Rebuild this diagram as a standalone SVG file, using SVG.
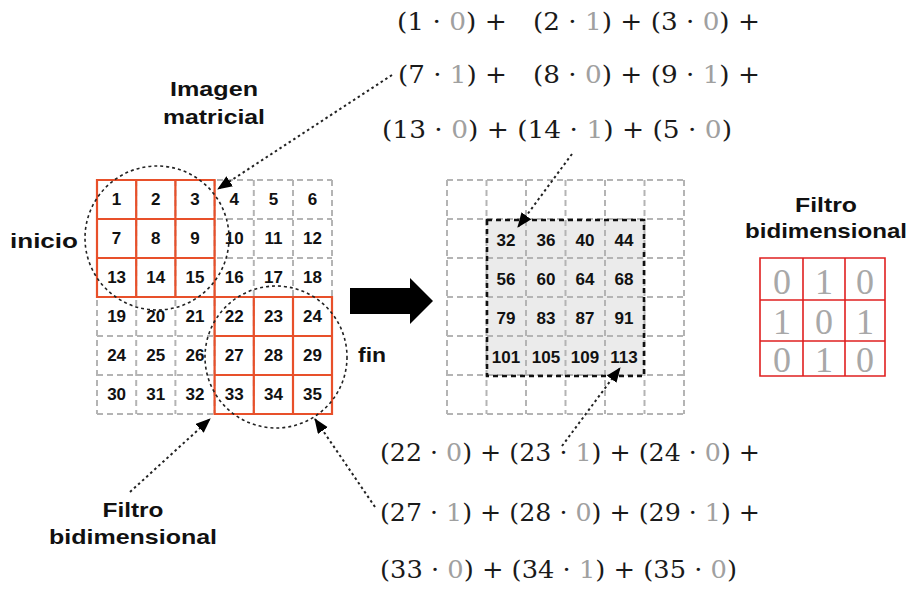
<svg xmlns="http://www.w3.org/2000/svg" width="912" height="591" viewBox="0 0 912 591">
<style>
.lbl{font-family:"Liberation Sans",Arial,sans-serif;font-weight:bold;font-size:21px;fill:#111;text-anchor:middle}
.num{font-family:"Liberation Sans",Arial,sans-serif;font-weight:bold;font-size:17px;fill:#111;text-anchor:middle}
.f{font-family:"DejaVu Serif","Liberation Serif",serif;font-size:25px;fill:#1a1a1a}
.g{fill:#a0a0a0}
.fd{font-family:"Liberation Serif",serif;font-size:36px;fill:#a8a8a8;text-anchor:middle}
.gd{stroke:#b4b4b4;stroke-width:2;stroke-dasharray:6 4;fill:none}
.red{stroke:#e8502a;stroke-width:2.2;fill:none}
.circ{stroke:#222;stroke-width:1.6;stroke-dasharray:3 3;fill:none}
.dot{stroke:#222;stroke-width:2;stroke-dasharray:2.5 3;fill:none}
</style>
<defs>
<marker id="ah" markerUnits="userSpaceOnUse" markerWidth="16" markerHeight="14" refX="14" refY="6" orient="auto">
<path d="M0,0 L15,6 L0,12 Z" fill="#000"/>
</marker>
</defs>
<rect width="912" height="591" fill="#fff"/>

<g id="imagen-matricial">
<path class="gd" d="M97,180H332M97,219H332M97,258H332M97,297H332M97,336H332M97,375H332M97,414H332M97,180V414M136.2,180V414M175.4,180V414M214.6,180V414M253.8,180V414M293,180V414M332,180V414"/>
<path class="red" d="M97,180H214.6V297H97Z M136.2,180V297M175.4,180V297M97,219H214.6M97,258H214.6"/>
<path class="red" d="M214.6,297H332V414H214.6Z M253.8,297V414M293,297V414M214.6,336H332M214.6,375H332"/>
<g class="num">
<text x="116.6" y="205">1</text><text x="155.8" y="205">2</text><text x="195" y="205">3</text><text x="234.2" y="205">4</text><text x="273.4" y="205">5</text><text x="312.5" y="205">6</text>
<text x="116.6" y="244">7</text><text x="155.8" y="244">8</text><text x="195" y="244">9</text><text x="234.2" y="244">10</text><text x="273.4" y="244">11</text><text x="312.5" y="244">12</text>
<text x="116.6" y="283">13</text><text x="155.8" y="283">14</text><text x="195" y="283">15</text><text x="234.2" y="283">16</text><text x="273.4" y="283">17</text><text x="312.5" y="283">18</text>
<text x="116.6" y="322">19</text><text x="155.8" y="322">20</text><text x="195" y="322">21</text><text x="234.2" y="322">22</text><text x="273.4" y="322">23</text><text x="312.5" y="322">24</text>
<text x="116.6" y="361">24</text><text x="155.8" y="361">25</text><text x="195" y="361">26</text><text x="234.2" y="361">27</text><text x="273.4" y="361">28</text><text x="312.5" y="361">29</text>
<text x="116.6" y="400">30</text><text x="155.8" y="400">31</text><text x="195" y="400">32</text><text x="234.2" y="400">33</text><text x="273.4" y="400">34</text><text x="312.5" y="400">35</text>
</g>
<circle class="circ" cx="157" cy="238" r="72"/>
<circle class="circ" cx="276" cy="357" r="71"/>
</g>

<g id="labels">
<text class="lbl" x="214" y="96" textLength="88" lengthAdjust="spacingAndGlyphs">Imagen</text>
<text class="lbl" x="214" y="124" textLength="102" lengthAdjust="spacingAndGlyphs">matricial</text>
<text class="lbl" x="44" y="248" textLength="68" lengthAdjust="spacingAndGlyphs">inicio</text>
<text class="lbl" x="372" y="362" textLength="28" lengthAdjust="spacingAndGlyphs">fin</text>
<text class="lbl" x="133" y="517" textLength="61" lengthAdjust="spacingAndGlyphs">Filtro</text>
<text class="lbl" x="133" y="544" textLength="168" lengthAdjust="spacingAndGlyphs">bidimensional</text>
</g>

<g id="flecha">
<path d="M350,288H410V278L433,301L410,324V314H350Z" fill="#000"/>
</g>

<g id="resultado">
<rect x="487" y="220" width="157" height="156" fill="#ebebeb"/>
<path class="gd" d="M447,180H684M447,219H684M447,258H684M447,297H684M447,336H684M447,375H684M447,414H684M447,180V414M486.5,180V414M526,180V414M565.5,180V414M605,180V414M644.5,180V414M684,180V414"/>
<rect x="487" y="220" width="157" height="156" fill="none" stroke="#111" stroke-width="2.6" stroke-dasharray="5 4"/>
<g class="num">
<text x="506" y="246">32</text><text x="546" y="246">36</text><text x="585" y="246">40</text><text x="624" y="246">44</text>
<text x="506" y="285">56</text><text x="546" y="285">60</text><text x="585" y="285">64</text><text x="624" y="285">68</text>
<text x="506" y="324">79</text><text x="546" y="324">83</text><text x="585" y="324">87</text><text x="624" y="324">91</text>
<text x="506" y="363">101</text><text x="546" y="363">105</text><text x="585" y="363">109</text><text x="624" y="363">113</text>
</g>
</g>

<g id="filtro">
<text class="lbl" x="826" y="212" textLength="62" lengthAdjust="spacingAndGlyphs">Filtro</text>
<text class="lbl" x="826" y="238" textLength="162" lengthAdjust="spacingAndGlyphs">bidimensional</text>
<path d="M760,258H885V376H760Z M803,258V376M845,258V376M760,300H885M760,341H885" fill="none" stroke="#e02020" stroke-width="1.6"/>
<g class="fd">
<text x="782" y="294">0</text><text x="824" y="294">1</text><text x="865" y="294">0</text>
<text x="782" y="334">1</text><text x="824" y="334">0</text><text x="865" y="334">1</text>
<text x="782" y="372">0</text><text x="824" y="372">1</text><text x="865" y="372">0</text>
</g>
</g>

<g id="formula-inicio" class="f">
<text x="397" y="30" textLength="110" lengthAdjust="spacingAndGlyphs">(1 · <tspan class="g">0</tspan>) +</text>
<text x="533" y="30" textLength="227" lengthAdjust="spacingAndGlyphs">(2 · <tspan class="g">1</tspan>) + (3 · <tspan class="g">0</tspan>) +</text>
<text x="398" y="83" textLength="109" lengthAdjust="spacingAndGlyphs">(7 · <tspan class="g">1</tspan>) +</text>
<text x="533" y="83" textLength="227" lengthAdjust="spacingAndGlyphs">(8 · <tspan class="g">0</tspan>) + (9 · <tspan class="g">1</tspan>) +</text>
<text x="382" y="138" textLength="350" lengthAdjust="spacingAndGlyphs">(13 · <tspan class="g">0</tspan>) + (14 · <tspan class="g">1</tspan>) + (5 · <tspan class="g">0</tspan>)</text>
</g>

<g id="formula-fin" class="f">
<text x="380" y="461" textLength="380" lengthAdjust="spacingAndGlyphs">(22 · <tspan class="g">0</tspan>) + (23 · <tspan class="g">1</tspan>) + (24 · <tspan class="g">0</tspan>) +</text>
<text x="380" y="521" textLength="380" lengthAdjust="spacingAndGlyphs">(27 · <tspan class="g">1</tspan>) + (28 · <tspan class="g">0</tspan>) + (29 · <tspan class="g">1</tspan>) +</text>
<text x="380" y="578" textLength="357" lengthAdjust="spacingAndGlyphs">(33 · <tspan class="g">0</tspan>) + (34 · <tspan class="g">1</tspan>) + (35 · <tspan class="g">0</tspan>)</text>
</g>

<g id="connectors">
<line class="dot" x1="392" y1="75" x2="218" y2="189" marker-end="url(#ah)"/>
<line class="dot" x1="130" y1="492" x2="210" y2="419" marker-end="url(#ah)"/>
<line class="dot" x1="375" y1="507" x2="315" y2="419" marker-end="url(#ah)"/>
<line class="dot" x1="572" y1="154" x2="518" y2="227" marker-end="url(#ah)"/>
<line class="dot" x1="562" y1="446" x2="620" y2="368" marker-end="url(#ah)"/>
</g>
</svg>
